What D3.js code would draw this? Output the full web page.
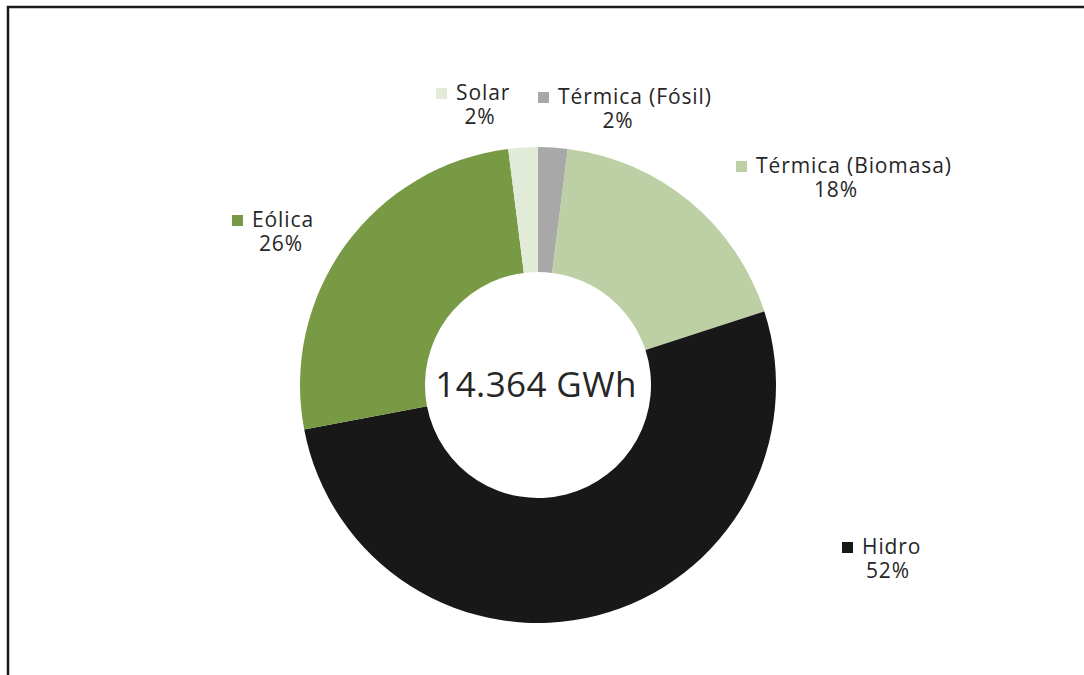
<!DOCTYPE html>
<html><head><meta charset="utf-8">
<script src="https://cdn.jsdelivr.net/npm/d3@7/dist/d3.min.js"></script>
<style>body{margin:0;background:#fff}svg{display:block}text{font-family:"Open Sans",sans-serif;fill:#262626}</style>
</head><body>
<svg id="c" width="1084" height="675"></svg>
<script>
const categories = ["Térmica (Fósil)", "Térmica (Biomasa)", "Hidro", "Eólica", "Solar"];
const values = [2, 18, 52, 26, 2];
const percentLabels = ["2%", "18%", "52%", "26%", "2%"];
const colors = ["#a8a8a8", "#bdcfa4", "#181818", "#789a44", "#e2ead8"];
const centerLabel = "14.364 GWh";

// label layout: [block left x, baseline y of first line, centre x of percent line]
const labelPos = [[538, 104, 618], [736, 173, 836], [842, 554, 888], [232, 227, 281], [436, 100, 480]];

const svg = d3.select("#c");
// frame
svg.append("path").attr("d", "M8,676V7H1084").attr("fill", "none").attr("stroke", "#1a1a1a").attr("stroke-width", 2.5);

const cx = 538, cy = 385, R = 238, r = 113;
const pie = d3.pie().sort(null).value(d => d)(values);
const arc = d3.arc().innerRadius(r).outerRadius(R);
const g = svg.append("g").attr("transform", `translate(${cx},${cy})`);
g.selectAll("path").data(pie).join("path").attr("d", arc).attr("fill", (d, i) => colors[i]);

g.append("text").attr("text-anchor", "middle").attr("x", -2).attr("y", 12).attr("font-size", 35)
  .attr("letter-spacing", 0.4).text(centerLabel);

const lab = svg.selectAll("g.lab").data(categories).join("g").attr("class", "lab");
lab.append("rect").attr("x", (d, i) => labelPos[i][0]).attr("y", (d, i) => labelPos[i][1] - 12)
  .attr("width", 11).attr("height", 11).attr("fill", (d, i) => colors[i]);
lab.append("text").attr("x", (d, i) => labelPos[i][0] + 20).attr("y", (d, i) => labelPos[i][1])
  .attr("font-size", 21).attr("letter-spacing", 0.9).text(d => d);
lab.append("text").attr("x", (d, i) => labelPos[i][2]).attr("y", (d, i) => labelPos[i][1] + 24)
  .attr("text-anchor", "middle").attr("font-size", 21).attr("letter-spacing", 0.9).text((d, i) => percentLabels[i]);
</script>
</body></html>
